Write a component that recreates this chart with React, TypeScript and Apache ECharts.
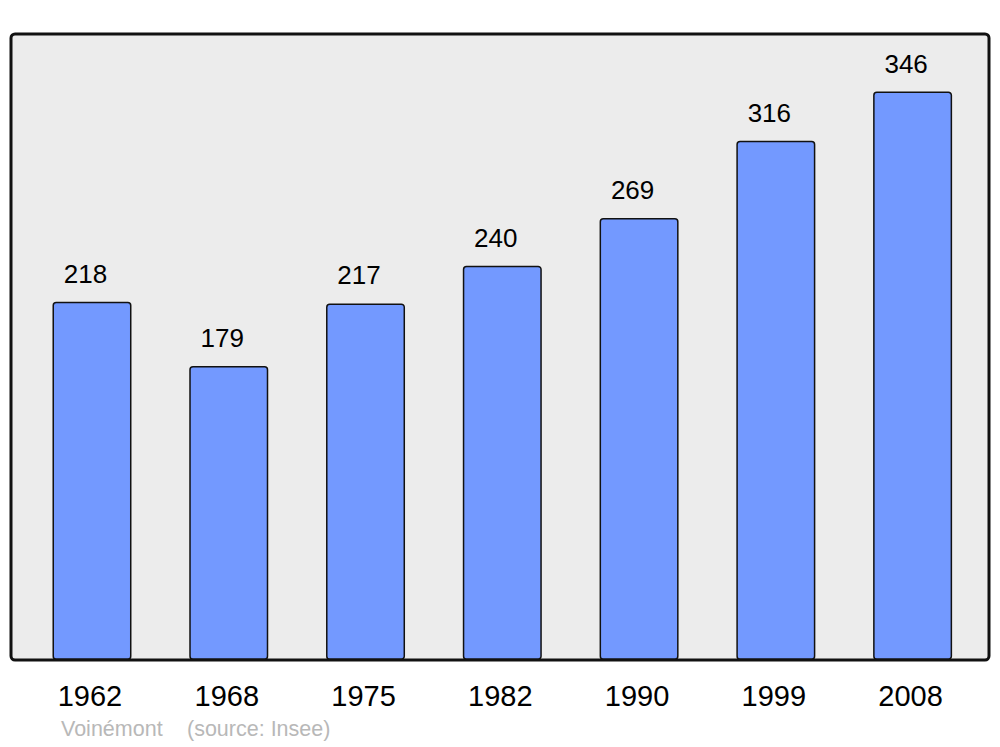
import React, { useEffect, useRef } from "react";
import * as echarts from "echarts";

const years = ["1962", "1968", "1975", "1982", "1990", "1999", "2008"];
const population = [218, 179, 217, 240, 269, 316, 346];
const footerName = "Voinémont";
const footerSource = "(source: Insee)";

export default function App() {
  const ref = useRef<HTMLDivElement>(null);
  useEffect(() => {
    if (!ref.current) return;
    const chart = echarts.init(ref.current, undefined, { renderer: "svg" });
    chart.setOption({
      animation: false,
      textStyle: { fontFamily: "Liberation Sans, Arial, sans-serif" },
      graphic: [
        {
          type: "rect",
          z: -10,
          shape: { x: 11, y: 34, width: 978, height: 626, r: 4 },
          style: { fill: "#ececec", stroke: "none" },
        },
        {
          type: "rect",
          z: 100,
          shape: { x: 11, y: 34, width: 978, height: 626, r: 4 },
          style: { fill: "none", stroke: "#111", lineWidth: 3 },
        },
        {
          type: "text",
          left: 61,
          top: 718,
          style: { text: footerName, fill: "#b8b8b8", font: "21.5px Liberation Sans, Arial, sans-serif" },
        },
        {
          type: "text",
          left: 187,
          top: 718,
          style: { text: footerSource, fill: "#b8b8b8", font: "21.5px Liberation Sans, Arial, sans-serif" },
        },
      ],
      grid: { left: 23.6, right: 19, top: 34, bottom: 87, containLabel: false },
      xAxis: {
        type: "category",
        data: years,
        axisLine: { show: false },
        axisTick: { show: false },
        axisLabel: { color: "#000", fontSize: 29, margin: 21, padding: [0, 4, 0, 0] },
      },
      yAxis: {
        type: "value",
        min: 0,
        max: 381,
        show: false,
        splitLine: { show: false },
      },
      series: [
        {
          type: "bar",
          data: population,
          barWidth: 79,
          itemStyle: { color: "#7399ff", borderColor: "#111", borderWidth: 1.5, borderRadius: 3 },
          label: { show: true, position: "top", distance: 15, offset: [-6.5, 0], color: "#000", fontSize: 26 },
        },
      ],
    });
    return () => chart.dispose();
  }, []);
  return <div ref={ref} style={{ width: 1000, height: 747, position: "absolute", left: 0, top: 0 }} />;
}
